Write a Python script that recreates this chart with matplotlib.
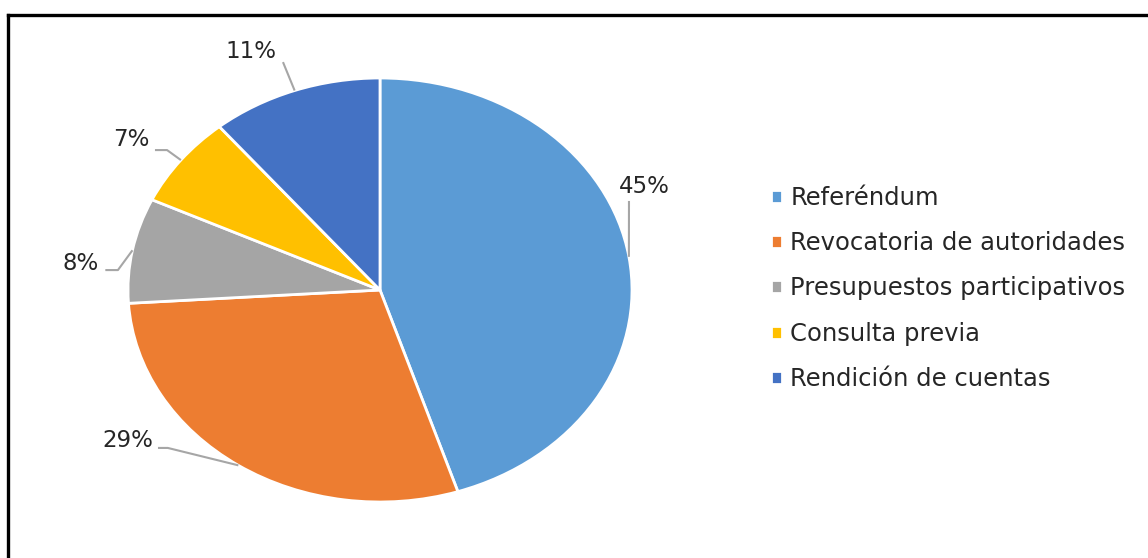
import numpy as np
import matplotlib.pyplot as plt
from matplotlib.lines import Line2D

# datos del gráfico
categorias = ['Referéndum', 'Revocatoria de autoridades', 'Presupuestos participativos',
              'Consulta previa', 'Rendición de cuentas']
porcentajes = [45, 29, 8, 7, 11]
colores = ['#5B9BD5', '#ED7D31', '#A5A5A5', '#FFC000', '#4472C4']

# posición de las etiquetas (coordenadas normalizadas del pastel)
pos_texto = [(1.05, 0.49), (-0.90, -0.708), (-1.115, 0.127), (-0.915, 0.708), (-0.41, 1.123)]
alin_texto = ['center', 'right', 'right', 'right', 'right']
guias = [
    [(0.988, 0.42)],
    [(-0.842, -0.745), (-0.881, -0.745)],
    [(-1.04, 0.094), (-1.09, 0.094)],
    [(-0.845, 0.660), (-0.893, 0.660)],
    [(-0.385, 1.075)],
]

W, H = 1148, 558
fig = plt.figure(figsize=(W / 100, H / 100), dpi=100)
plt.rcParams['font.family'] = ['DejaVu Sans']

# pastel elíptico: radio horizontal 252 px, vertical 212 px, centro (380, 290)
rx, ry = 252, 212
cx, cy = 380, 290
ax = fig.add_axes([(cx - 1.25 * rx) / W, (H - cy - 1.25 * ry) / H, 2.5 * rx / W, 2.5 * ry / H])

wedges, _ = ax.pie(porcentajes, colors=colores, startangle=90, counterclock=False,
                   wedgeprops=dict(edgecolor='white', linewidth=2))
ax.set_aspect('auto')
ax.set_xlim(-1.25, 1.25)
ax.set_ylim(-1.25, 1.25)
ax.axis('off')

for w, p, tp, ha, g in zip(wedges, porcentajes, pos_texto, alin_texto, guias):
    ang = np.deg2rad((w.theta1 + w.theta2) / 2)
    ancla = (np.cos(ang), np.sin(ang))
    pts = [ancla] + g
    ax.plot([q[0] for q in pts], [q[1] for q in pts], color='#A6A6A6', lw=1.5,
            solid_capstyle='butt', clip_on=False)
    ax.text(tp[0], tp[1], f'{p}%', ha=ha, va='center', fontsize=16.5, color='#262626')

leg = fig.legend(wedges, categorias, loc='center left', bbox_to_anchor=(771 / W, (H - 288.5) / H),
                 frameon=False, fontsize=17.5, handlelength=0.45, handleheight=0.45,
                 handletextpad=0.35, labelspacing=0.88, borderpad=0, borderaxespad=0)
for t in leg.get_texts():
    t.set_color('#262626')

# marco negro (solo arriba e izquierda visibles)
fig.add_artist(Line2D([8 / W, 1], [1 - 15 / H, 1 - 15 / H], color='black', lw=2.4,
                      transform=fig.transFigure))
fig.add_artist(Line2D([8 / W, 8 / W], [0, 1 - 15 / H], color='black', lw=2.4,
                      transform=fig.transFigure))

fig.savefig('out.png', dpi=100)
